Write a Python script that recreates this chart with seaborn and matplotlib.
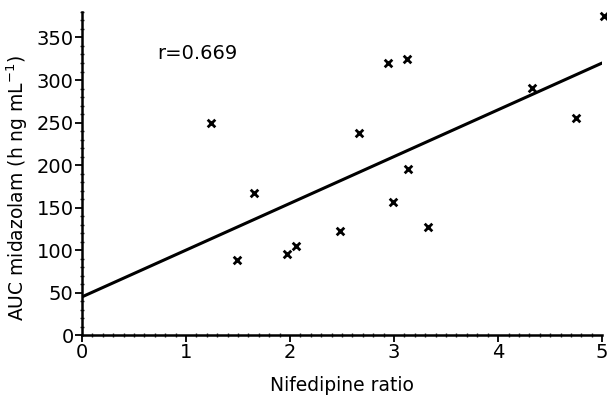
import matplotlib
matplotlib.use("Agg")
import matplotlib.pyplot as plt
import seaborn as sns
import pandas as pd
from matplotlib.ticker import MultipleLocator

nifedipine_ratio = [1.24, 1.49, 1.65, 1.97, 2.06, 2.48, 2.66, 2.94, 2.99, 3.12, 3.13, 3.33, 4.33, 4.75, 5.02]
auc_midazolam = [250, 88, 167, 96, 105, 122, 238, 320, 156, 325, 195, 127, 291, 255, 375]
fit_x = [0, 5]
fit_y = [45, 320]
x_ticks = [0, 1, 2, 3, 4, 5]
y_ticks = [0, 50, 100, 150, 200, 250, 300, 350]

sns.set_style("ticks")
plt.rcParams['font.family'] = ['DejaVu Sans']

df = pd.DataFrame({"x": nifedipine_ratio, "y": auc_midazolam})
fit = pd.DataFrame({"x": fit_x, "y": fit_y})

fig = plt.figure(figsize=(6.07, 3.99), dpi=100)
ax = fig.add_axes([0.135, 0.16, 0.857, 0.81])

sns.lineplot(data=fit, x="x", y="y", ax=ax, color="black", linewidth=2.2)
sns.scatterplot(data=df, x="x", y="y", ax=ax, marker="x", color="black", s=30, linewidth=2, clip_on=False)

ax.set_xlim(0, 5)
ax.set_ylim(0, 380)
ax.set_xticks(x_ticks)
ax.set_yticks(y_ticks)
ax.xaxis.set_minor_locator(MultipleLocator(0.1))
ax.yaxis.set_minor_locator(MultipleLocator(10))
ax.tick_params(which="major", direction="out", length=5, width=1.3, labelsize=14, colors="black", pad=1)
ax.tick_params(which="minor", direction="inout", length=3, width=1)
for s in ["top", "right"]:
    ax.spines[s].set_visible(False)
for s in ["left", "bottom"]:
    ax.spines[s].set_linewidth(1.8)
    ax.spines[s].set_color("black")

ax.set_xlabel("Nifedipine ratio", fontsize=13.5, color="black")
ax.set_ylabel("AUC midazolam (h ng mL$^{-1}$)", fontsize=13.5, color="black")
ax.xaxis.set_label_coords(0.5, -0.125)
ax.yaxis.set_label_coords(-0.10, 0.455)
ax.text(0.72, 331, "r=0.669", fontsize=14, va="center", ha="left", color="black")

fig.savefig("out.png", dpi=100)
